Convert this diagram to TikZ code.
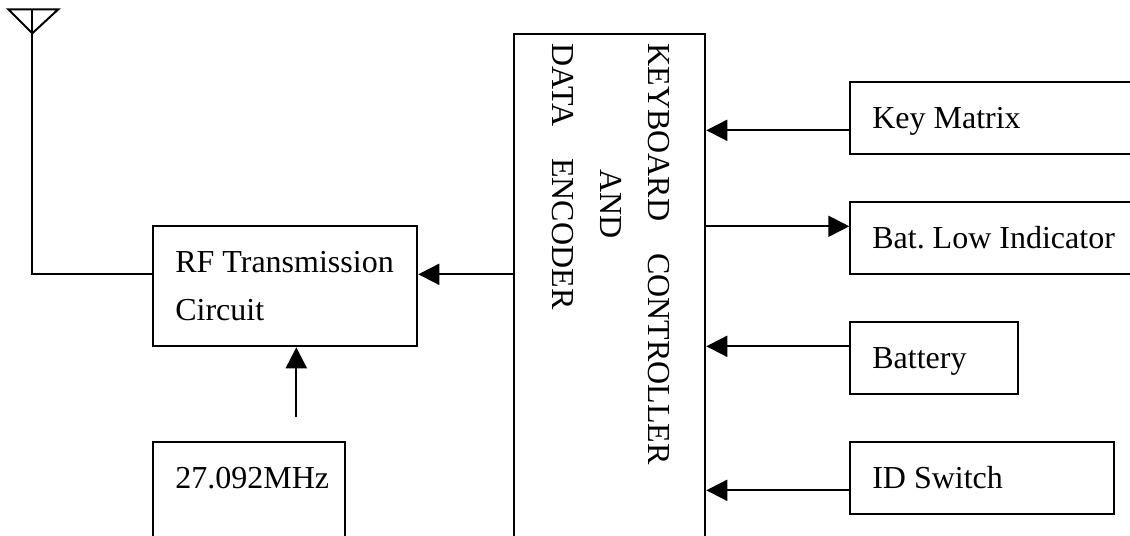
\documentclass[tikz,border=0pt]{standalone}
\usepackage{fontspec}
\setmainfont{Liberation Serif}
\usetikzlibrary{arrows.meta}
\def\px{0.75pt}
\frenchspacing
\tikzset{
    blockbox/.style={draw,line width=2*\px,anchor=north west,inner xsep=22*\px,inner ysep=0pt,align=flush left,
        font=\fontsize{24}{36}\selectfont},
    linebox/.style={blockbox,text width=(#1-44)*\px,text height=46*\px,text depth=26*\px},
    sigline/.style={line width=2*\px,-{Triangle[length=21*\px,width=21*\px]}},
    wireline/.style={line width=2*\px},
}

\begin{document}
\begin{tikzpicture}[x=\px,y=-\px]
        % page
        \useasboundingbox (0.7,0.7) rectangle (1130.7,535.7);
        \clip (0.7,0.7) rectangle (1130.7,535.7);

        % left blocks
        \node[blockbox,text width=220*\px,minimum height=120*\px] (rf) at (153,226) {\mbox{RF Transmission}\\Circuit};
        \node[linebox=192,text depth=150*\px] (osc) at (153,442) {27.092MHz};

        % controller
        \node[draw,line width=2*\px,anchor=north west,minimum width=191*\px,minimum height=600*\px] (main) at (514,34) {};
        \node[rotate=-90,anchor=north west,inner sep=0pt,align=left,font=\fontsize{24}{36}\selectfont] (maintext) at (670.7,44)
            {KEYBOARD\hspace{24pt}CONTROLLER\\\hspace{94.5pt}AND\\DATA\hspace{24pt}ENCODER};

        % right blocks
        \node[linebox=400] (keys) at (850,82) {Key Matrix};
        \node[linebox=400] (batlow) at (850,202) {Bat. Low Indicator};
        \node[linebox=168] (battery) at (850,322) {Battery};
        \node[linebox=264] (idsw) at (850,442) {ID Switch};

        % inputs of the controller
        \foreach \name/\dy in {keys/-9pt,battery/9pt,idsw/-9pt}{
            \coordinate (tap) at ([yshift=\dy]\name.west);
            \draw[sigline] (tap) -- (tap -| main.east);
        }

        % output to the indicator
        \coordinate (tap) at ([yshift=9pt]batlow.west);
        \draw[sigline] (tap -| main.east) -- (tap);

        % controller to RF
        \coordinate (tap) at ([yshift=9pt]rf.east);
        \draw[sigline] (tap -| main.west) -- (tap);

        % oscillator to RF
        \coordinate (osctop) at (297,418);
        \draw[sigline] (osctop) -- (osctop |- rf.south);

        % antenna
        \coordinate (anttop) at (33,10);
        \coordinate (antapex) at (33,34);
        \draw[wireline] (9,10) -- (59,10) -- (antapex) -- cycle;
        \coordinate (tap) at ([yshift=9pt]rf.west);
        \draw[wireline] (anttop) -- (antapex) -- (antapex |- tap) -- (tap);
    \end{tikzpicture}
\end{document}
